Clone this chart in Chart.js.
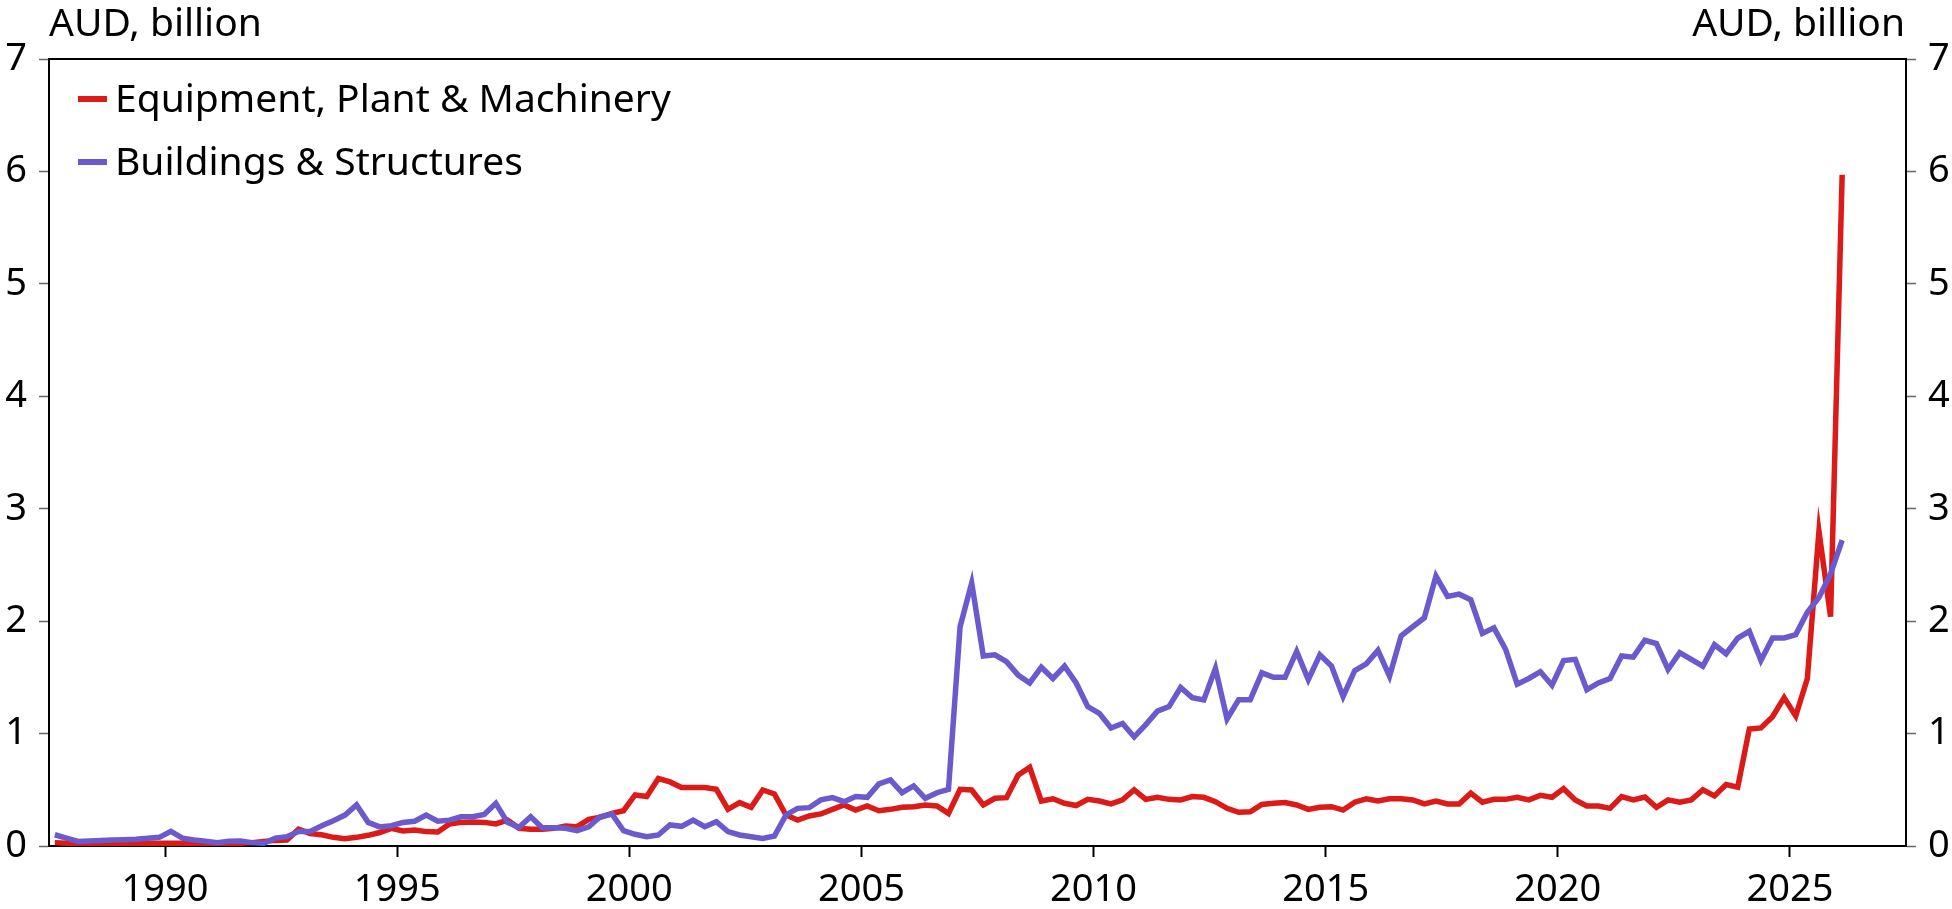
<!DOCTYPE html>
<html><head><meta charset="utf-8">
<script src="https://cdn.jsdelivr.net/npm/chart.js@4.4.1/dist/chart.umd.min.js"></script>
<style>html,body{margin:0;padding:0;background:#fff;overflow:hidden}canvas{display:block}</style>
</head><body>
<canvas id="c" width="1952" height="909"></canvas>
<script>
// ---- data ----
const seriesNames = ['Equipment, Plant & Machinery', 'Buildings & Structures'];
const axisUnitLabel = 'AUD, billion';
const firstQuarter = 1987.625;   // Q3 1987 (decimal year)
const quarterStep = 0.25;

const equipment = [
  0.03,0.025,0.02,0.02,0.02,0.02,0.02,0.02,0.025,0.025,
  0.025,0.025,0.02,0.02,0.02,0.02,0.025,0.03,0.04,0.05,
  0.053,0.15,0.11,0.10,0.077,0.065,0.077,0.095,0.12,0.157,
  0.133,0.142,0.128,0.125,0.196,0.21,0.214,0.21,0.196,0.23,
  0.157,0.148,0.148,0.157,0.178,0.172,0.237,0.255,0.29,0.314,
  0.454,0.44,0.60,0.57,0.52,0.52,0.52,0.504,0.326,0.386,
  0.344,0.498,0.463,0.276,0.231,0.267,0.285,0.326,0.365,0.32,
  0.356,0.314,0.326,0.344,0.35,0.365,0.356,0.29,0.504,0.498,
  0.365,0.424,0.43,0.63,0.70,0.40,0.42,0.38,0.36,0.415,
  0.40,0.374,0.41,0.50,0.415,0.433,0.415,0.41,0.44,0.433,
  0.394,0.335,0.30,0.305,0.37,0.38,0.386,0.365,0.326,0.344,
  0.35,0.32,0.39,0.42,0.40,0.42,0.42,0.41,0.374,0.40,
  0.374,0.374,0.47,0.39,0.415,0.415,0.433,0.41,0.45,0.433,
  0.51,0.41,0.356,0.356,0.335,0.44,0.41,0.436,0.344,0.41,
  0.39,0.41,0.50,0.445,0.546,0.523,1.04,1.05,1.15,1.32,
  1.157,1.49,2.80,2.04,5.97
];
const buildings = [
  0.10,0.07,0.04,0.045,0.05,0.053,0.056,0.06,0.068,0.077,
  0.13,0.07,0.053,0.042,0.03,0.042,0.045,0.03,0.024,0.07,
  0.083,0.13,0.13,0.18,0.225,0.275,0.365,0.21,0.17,0.18,
  0.21,0.22,0.275,0.22,0.23,0.26,0.26,0.28,0.38,0.21,
  0.166,0.26,0.163,0.163,0.157,0.136,0.17,0.26,0.285,0.136,
  0.104,0.083,0.098,0.187,0.175,0.231,0.172,0.216,0.128,0.098,
  0.083,0.068,0.089,0.276,0.335,0.341,0.41,0.43,0.394,0.44,
  0.433,0.552,0.587,0.474,0.534,0.424,0.474,0.504,1.95,2.34,
  1.69,1.70,1.64,1.52,1.45,1.59,1.49,1.60,1.45,1.24,
  1.18,1.05,1.09,0.97,1.08,1.20,1.24,1.41,1.32,1.30,
  1.58,1.13,1.30,1.30,1.54,1.50,1.50,1.73,1.48,1.70,
  1.60,1.33,1.56,1.62,1.74,1.51,1.87,1.95,2.03,2.40,
  2.22,2.24,2.19,1.89,1.94,1.75,1.44,1.49,1.55,1.43,
  1.65,1.66,1.39,1.45,1.49,1.69,1.68,1.83,1.80,1.57,
  1.72,1.66,1.60,1.79,1.71,1.85,1.91,1.65,1.85,1.85,
  1.88,2.08,2.21,2.42,2.72
];
const xTickValues = [1990,1995,2000,2005,2010,2015,2020,2025];
const xTickLabels = ['1990','1995','2000','2005','2010','2015','2020','2025'];
const yTickValues = [0,1,2,3,4,5,6,7];
const yTickLabels = ['0','1','2','3','4','5','6','7'];

const quarterDates = equipment.map((_, i) => firstQuarter + i * quarterStep);

// ---- styles ----
const FONT_FAMILY = '"Noto Sans", "Open Sans", sans-serif';
const FONT_SIZE = 38;
const TEXT_SIZE = 39;
const RED = '#dc1a17';
const PURPLE = '#6a5acd';
const LINE_W = 5.5;

const overlayPlugin = {
  id: 'overlay',
  afterDraw(chart) {
    const ctx = chart.ctx;
    const area = chart.chartArea;
    ctx.save();
    ctx.font = TEXT_SIZE + 'px ' + FONT_FAMILY;
    ctx.fillStyle = '#000';
    ctx.textBaseline = 'alphabetic';
    ctx.textAlign = 'left';
    ctx.fillText(axisUnitLabel, area.left, 36);
    ctx.textAlign = 'right';
    ctx.fillText(axisUnitLabel, area.right - 1, 36);
    // legend
    chart.data.datasets.forEach((ds, k) => {
      const ly = 99 + 63 * k;
      ctx.strokeStyle = ds.borderColor;
      ctx.lineWidth = 6;
      ctx.lineCap = 'butt';
      ctx.beginPath();
      ctx.moveTo(area.left + 29, ly);
      ctx.lineTo(area.left + 58, ly);
      ctx.stroke();
      ctx.fillStyle = '#000';
      ctx.textAlign = 'left';
      ctx.fillText(ds.label, area.left + 66, ly + 13);
    });
    ctx.restore();
  }
};

const tickFont = { family: FONT_FAMILY, size: FONT_SIZE };

function yAxis(position, width) {
  return {
    type: 'linear', position, min: 0, max: 7,
    afterBuildTicks: a => { a.ticks = yTickValues.map(v => ({ value: v })); },
    afterFit: s => { s.width = width; },
    ticks: { font: tickFont, color: '#000', padding: 12,
      callback: (v, i) => yTickLabels[i] },
    grid: { drawOnChartArea: false, drawTicks: true, tickLength: 10, tickColor: '#666', tickWidth: 1.5 },
    border: { display: true, color: '#000', width: 2 }
  };
}

new Chart(document.getElementById('c'), {
  type: 'line',
  data: {
    datasets: [
      { label: seriesNames[0], data: quarterDates.map((x, i) => ({ x, y: equipment[i] })),
        borderColor: RED, backgroundColor: RED, borderWidth: LINE_W, pointRadius: 0, tension: 0,
        yAxisID: 'y', xAxisID: 'x', order: 2 },
      { label: seriesNames[1], data: quarterDates.map((x, i) => ({ x, y: buildings[i] })),
        borderColor: PURPLE, backgroundColor: PURPLE, borderWidth: LINE_W, pointRadius: 0, tension: 0,
        yAxisID: 'y', xAxisID: 'x', order: 1 }
    ]
  },
  options: {
    responsive: false, animation: false, devicePixelRatio: 1,
    layout: { padding: { top: 59, left: 0, right: 0, bottom: 0 } },
    plugins: { legend: { display: false }, tooltip: { enabled: false } },
    scales: {
      x: {
        type: 'linear', position: 'bottom', min: 1987.5, max: 2027.5,
        afterBuildTicks: a => { a.ticks = xTickValues.map(v => ({ value: v })); },
        afterFit: s => { s.height = 63; },
        ticks: { font: tickFont, color: '#000', padding: 10, maxRotation: 0, autoSkip: false,
          callback: (v, i) => xTickLabels[i] },
        grid: { drawOnChartArea: false, drawTicks: true, tickLength: 11, tickColor: '#000', tickWidth: 2 },
        border: { display: true, color: '#000', width: 2 }
      },
      xTop: {
        type: 'linear', position: 'top', min: 1987.5, max: 2027.5,
        afterFit: s => { s.height = 0; },
        ticks: { display: false },
        grid: { display: false, drawTicks: false },
        border: { display: true, color: '#000', width: 2 }
      },
      y: yAxis('left', 49),
      y2: yAxis('right', 46)
    }
  },
  plugins: [overlayPlugin]
});
</script>
</body></html>
